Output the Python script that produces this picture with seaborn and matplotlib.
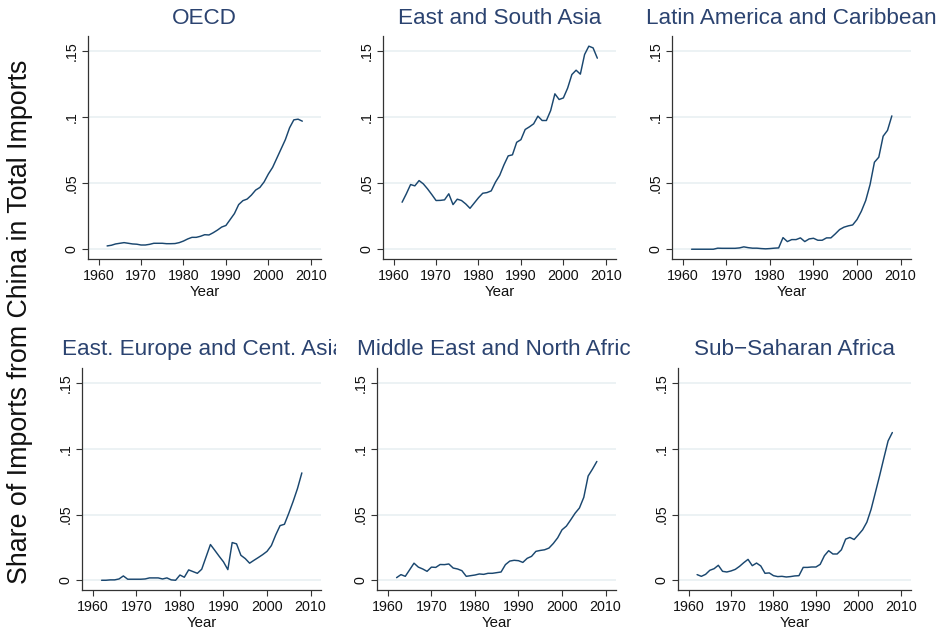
import matplotlib
matplotlib.use("Agg")
import matplotlib.pyplot as plt
from matplotlib.transforms import Bbox
import pandas as pd
import seaborn as sns

# Data (share of imports from China, 1962-2008)
years = list(range(1962, 2009))

oecd = [0.0025, 0.003, 0.004, 0.0045, 0.005, 0.0045, 0.004, 0.0038, 0.0032, 0.0032,
        0.0037, 0.0045, 0.0045, 0.0045, 0.0042, 0.0042, 0.0043, 0.005, 0.0062, 0.0078,
        0.009, 0.009, 0.0098, 0.011, 0.0108, 0.0125, 0.0145, 0.0168, 0.018, 0.0225,
        0.027, 0.0338, 0.0368, 0.038, 0.041, 0.0448, 0.0468, 0.051, 0.057, 0.062,
        0.069, 0.076, 0.083, 0.092, 0.098, 0.0985, 0.097]

east_south_asia = [0.0356, 0.042, 0.049, 0.048, 0.052, 0.0495, 0.0457, 0.0414, 0.0369, 0.037,
                   0.0374, 0.042, 0.0338, 0.0379, 0.0369, 0.0343, 0.031, 0.035, 0.039, 0.0424,
                   0.0429, 0.0442, 0.0508, 0.056, 0.0639, 0.0707, 0.0715, 0.081, 0.083, 0.0907,
                   0.0927, 0.095, 0.1008, 0.0975, 0.0975, 0.105, 0.1177, 0.1134, 0.1146, 0.122,
                   0.1323, 0.1356, 0.1326, 0.1475, 0.1538, 0.1525, 0.1447]

latin_america = [0.0, 0.0, 0.0, 0.0, 0.0, 0.0, 0.0008, 0.0007, 0.0007, 0.0007,
                 0.0007, 0.001, 0.0018, 0.0012, 0.0008, 0.0008, 0.0005, 0.0003, 0.0005, 0.0008,
                 0.001, 0.0088, 0.0058, 0.0073, 0.0073, 0.0086, 0.0058, 0.0078, 0.0083, 0.0068,
                 0.0068, 0.0086, 0.0086, 0.0116, 0.0149, 0.0167, 0.0177, 0.0184, 0.0225, 0.0288,
                 0.0369, 0.049, 0.0659, 0.0697, 0.0856, 0.09, 0.101]

east_europe = [0.0, 0.0, 0.0003, 0.0003, 0.001, 0.0033, 0.0008, 0.0008, 0.0008, 0.0008,
               0.001, 0.0018, 0.0018, 0.0018, 0.001, 0.0018, 0.0003, 0.0, 0.004, 0.0023,
               0.0079, 0.0066, 0.0053, 0.0084, 0.0178, 0.0272, 0.0228, 0.0183, 0.014, 0.0081,
               0.0287, 0.0277, 0.019, 0.0165, 0.013, 0.0152, 0.0173, 0.0195, 0.022, 0.0264,
               0.0345, 0.0416, 0.0426, 0.051, 0.060, 0.0698, 0.0817]

middle_east = [0.002, 0.0043, 0.003, 0.008, 0.013, 0.010, 0.0086, 0.0068, 0.010, 0.0098,
               0.012, 0.0119, 0.0124, 0.0093, 0.0086, 0.0073, 0.003, 0.0035, 0.004, 0.0048,
               0.0045, 0.0053, 0.0053, 0.0058, 0.0063, 0.0119, 0.0146, 0.0152, 0.0149, 0.0136,
               0.0167, 0.0182, 0.022, 0.0227, 0.0232, 0.0245, 0.028, 0.0323, 0.0384, 0.0412,
               0.046, 0.051, 0.055, 0.0631, 0.0793, 0.0846, 0.0904]

sub_saharan = [0.0043, 0.003, 0.0045, 0.0076, 0.0088, 0.0114, 0.0068, 0.0063, 0.0071, 0.0083,
               0.0106, 0.0134, 0.0159, 0.0111, 0.0131, 0.0109, 0.0053, 0.0056, 0.0035, 0.0028,
               0.003, 0.0025, 0.0028, 0.0033, 0.0035, 0.0098, 0.0098, 0.0101, 0.0101, 0.0121,
               0.0187, 0.0225, 0.020, 0.020, 0.0232, 0.0313, 0.0326, 0.031, 0.0346, 0.0384,
               0.0442, 0.054, 0.0667, 0.0795, 0.0929, 0.106, 0.1124]

regions = ["OECD", "East and South Asia", "Latin America and Caribbean",
           "East. Europe and Cent. Asia", "Middle East and North Africa", "Sub\u2212Saharan Africa"]
series = [oecd, east_south_asia, latin_america, east_europe, middle_east, sub_saharan]

y_ticks = [0, 0.05, 0.1, 0.15]
y_tick_labels = ["0", ".05", ".1", ".15"]
x_ticks = [1960, 1970, 1980, 1990, 2000, 2010]

df = pd.concat(
    [pd.DataFrame({"Year": years, "Share": s, "Region": r}) for r, s in zip(regions, series)],
    ignore_index=True,
)

# Layout in pixels (left, right, top, bottom) for each panel
W, H = 941, 632
boxes = [
    (88, 321, 36, 259), (383, 616, 36, 259), (672, 911, 36, 259),
    (82, 321, 368, 590), (377, 616, 368, 590), (678, 911, 368, 590),
]
# title placement: (x, y, align, clip_right) in pixels
title_pos = [
    (204.5, 19, "center", None), (499.5, 19, "center", None), (791.5, 19, "center", None),
    (62, 350, "left", 336), (357, 350, "left", 631), (794.5, 350, "center", None),
]

line_color = "#1a476f"
title_color = "#2b4370"
grid_color = "#eaf1f3"

sns.set_theme(style="ticks")
plt.rcParams["font.family"] = ["Liberation Sans", "DejaVu Sans"]

fig = plt.figure(figsize=(W / 100, H / 100), dpi=100)

for i, region in enumerate(regions):
    l, r, t, b = boxes[i]
    ax = fig.add_axes([l / W, 1 - b / H, (r - l) / W, (b - t) / H])
    sns.lineplot(data=df[df["Region"] == region], x="Year", y="Share",
                 color=line_color, linewidth=1.05, ax=ax)
    ax.set_xlim(1957.5, 2012.4)
    ax.set_ylim(-0.0074, 0.1615)
    for yv in y_ticks:
        ax.axhline(yv, color=grid_color, linewidth=1.3, zorder=0)
    ax.set_yticks(y_ticks)
    ax.set_yticklabels(y_tick_labels, rotation=90, va="center")
    ax.set_xticks(x_ticks)
    ax.tick_params(axis="both", labelsize=10.3, length=4, width=0.8, color="#333333",
                   labelcolor="#111111", pad=3)
    ax.set_xlabel("Year", fontsize=10.8, color="#111111", labelpad=1.5)
    ax.set_ylabel("")
    for side in ["top", "right"]:
        ax.spines[side].set_visible(False)
    for side in ["left", "bottom"]:
        ax.spines[side].set_color("#333333")
        ax.spines[side].set_linewidth(0.9)

    tx, ty, ha, clip_r = title_pos[i]
    txt = fig.text(tx / W, 1 - ty / H, region, ha=ha, va="center",
                   fontsize=16.2, color=title_color)
    if clip_r is not None:
        txt.set_clip_box(Bbox.from_extents(0, 0, clip_r, H))
        txt.set_clip_on(True)

fig.text(20 / W, 1 - 322 / H, "Share of Imports from China in Total Imports",
         rotation=90, ha="center", va="center", fontsize=19.3, color="#111111")

fig.savefig("out.png", dpi=100)
